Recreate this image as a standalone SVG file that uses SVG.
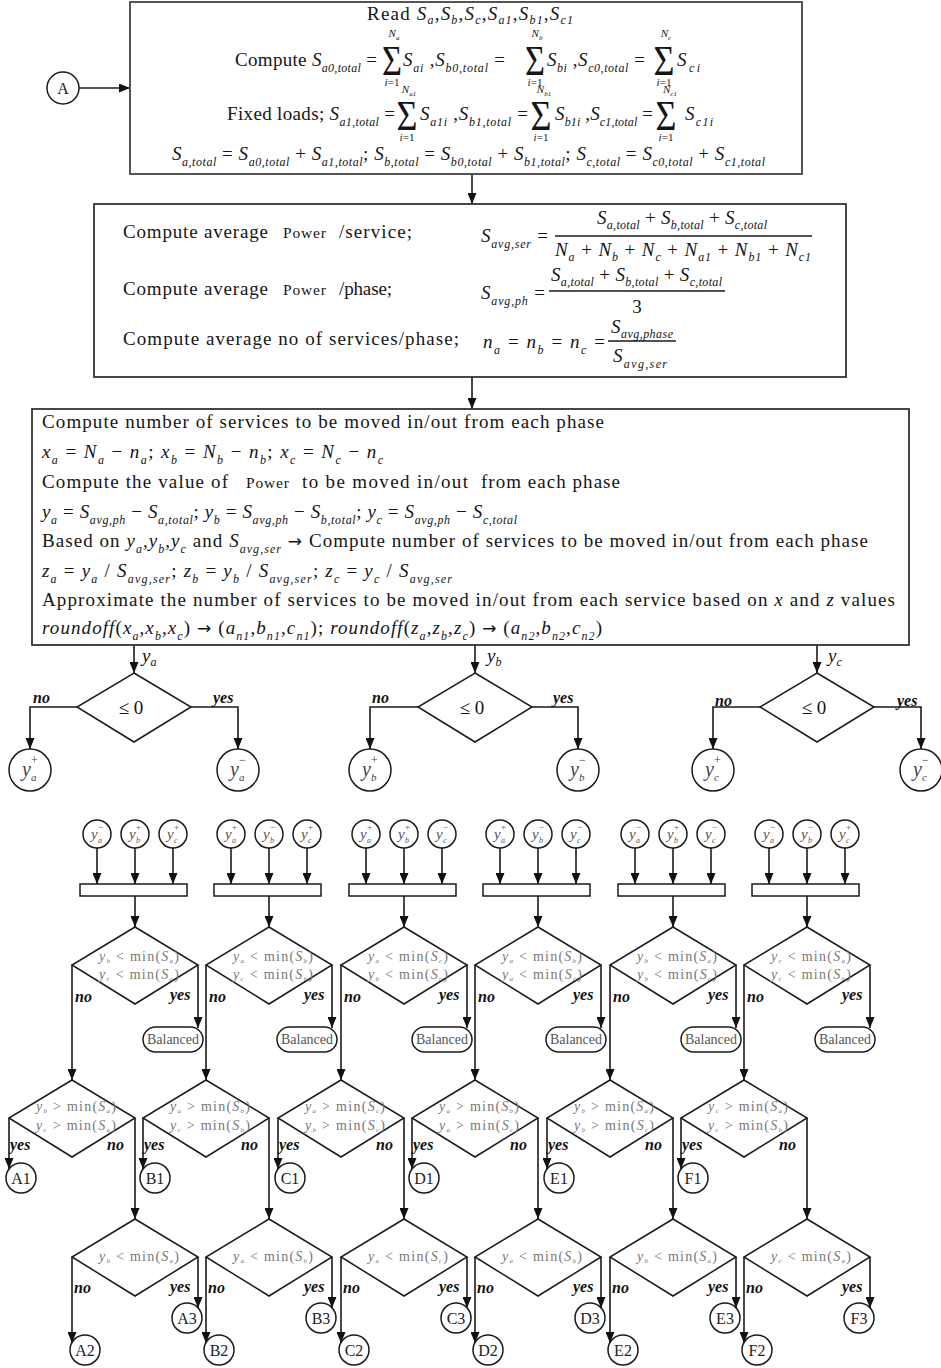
<svg xmlns="http://www.w3.org/2000/svg" width="941" height="1368" viewBox="0 0 941 1368">
<style>
.tx{font-family:"Liberation Serif","Times New Roman",serif;font-size:19px;fill:#151515}
.i{font-style:italic}
.s{font-size:12px;font-style:italic}
.pw{font-size:15.5px}
.arw{font-family:"DejaVu Sans",sans-serif;font-style:normal;font-size:17px}
.sig{font-family:"Liberation Serif",serif;font-size:42px;text-anchor:middle;fill:#151515}
.lim{font-family:"Liberation Serif",serif;font-size:11px;text-anchor:middle;fill:#151515}
.yn{font-family:"Liberation Serif",serif;font-style:italic;font-weight:bold;font-size:16px;fill:#111}
.cd{font-family:"Liberation Serif",serif;font-size:14px;fill:#777;text-anchor:middle}
.cs{font-size:7px;font-style:italic}
.ln{fill:none;stroke:#1a1a1a;stroke-width:1.6}
.ar{fill:none;stroke:#1a1a1a;stroke-width:1.6;marker-end:url(#ah)}
.bx{fill:#fff;stroke:#333;stroke-width:1.8}
.nd{fill:#fff;stroke:#1a1a1a;stroke-width:1.5}
.yv{font-family:"Liberation Serif",serif;font-style:italic;font-size:15px;fill:#555}
.yp{font-family:"Liberation Serif",serif;font-size:9px;fill:#555}
.yq{font-family:"Liberation Serif",serif;font-style:italic;font-size:8px;fill:#555}
.Yv{font-family:"Liberation Serif",serif;font-style:italic;font-size:20px;fill:#444}
.Yp{font-family:"Liberation Serif",serif;font-size:12px;fill:#444}
.Yq{font-family:"Liberation Serif",serif;font-style:italic;font-size:11px;fill:#444}
.ol{font-family:"Liberation Serif",serif;font-size:16px;fill:#222;text-anchor:middle}
.bl{font-family:"Liberation Serif",serif;font-size:14px;fill:#555;text-anchor:middle}
</style>
<defs>
<marker id="ah" viewBox="0 0 11 9" refX="11" refY="4.5" markerWidth="11" markerHeight="9" markerUnits="userSpaceOnUse" orient="auto"><path d="M0,0 L11,4.5 L0,9 z" fill="#111"/></marker>
</defs>
<rect width="941" height="1368" fill="#fff"/>

<!-- connectors -->
<g id="connectors">
<path class="ar" d="M79,88 H130"/>
<path class="ar" d="M472,174 V204"/>
<path class="ar" d="M472,377 V409"/>
<path class="ar" d="M134,645 V673"/>
<path class="ar" d="M475,645 V673"/>
<path class="ar" d="M817,645 V673"/>
<path class="ar" d="M77,707 H30 V749"/>
<path class="ar" d="M191,707 H238 V749"/>
<path class="ar" d="M418,707 H370 V749"/>
<path class="ar" d="M532,707 H578 V749"/>
<path class="ar" d="M760,707 H713 V749"/>
<path class="ar" d="M874,707 H921 V749"/>
<text class="tx i" x="142" y="662">y<tspan class="s" dy="4">a</tspan></text>
<text class="tx i" x="487" y="662">y<tspan class="s" dy="4">b</tspan></text>
<text class="tx i" x="828" y="662">y<tspan class="s" dy="4">c</tspan></text>
<text class="yn" x="33" y="703">no</text><text class="yn" x="213" y="703">yes</text>
<text class="yn" x="372" y="703">no</text><text class="yn" x="553" y="703">yes</text>
<text class="yn" x="715" y="706">no</text><text class="yn" x="897" y="706">yes</text>

<!-- column a -->
<path class="ar" d="M97,848 V884"/><path class="ar" d="M135,848 V884"/><path class="ar" d="M173,848 V884"/>
<path class="ar" d="M135,896 V927"/><path class="ar" d="M198,965 V1028"/><path class="ar" d="M72,965 V1080"/>
<path class="ar" d="M9,1118 V1169"/><path class="ar" d="M135,1118 V1219"/><path class="ar" d="M72,1257 V1343"/><path class="ar" d="M198,1257 V1308"/>
<!-- column b -->
<path class="ar" d="M231,848 V884"/><path class="ar" d="M269,848 V884"/><path class="ar" d="M307,848 V884"/>
<path class="ar" d="M269,896 V927"/><path class="ar" d="M332,965 V1028"/><path class="ar" d="M206,965 V1080"/>
<path class="ar" d="M143,1118 V1169"/><path class="ar" d="M269,1118 V1219"/><path class="ar" d="M206,1257 V1343"/><path class="ar" d="M332,1257 V1308"/>
<!-- column c -->
<path class="ar" d="M366,848 V884"/><path class="ar" d="M404,848 V884"/><path class="ar" d="M442,848 V884"/>
<path class="ar" d="M404,896 V927"/><path class="ar" d="M467,965 V1028"/><path class="ar" d="M341,965 V1080"/>
<path class="ar" d="M278,1118 V1169"/><path class="ar" d="M404,1118 V1219"/><path class="ar" d="M341,1257 V1343"/><path class="ar" d="M467,1257 V1308"/>
<!-- column d -->
<path class="ar" d="M500,848 V884"/><path class="ar" d="M538,848 V884"/><path class="ar" d="M576,848 V884"/>
<path class="ar" d="M538,896 V927"/><path class="ar" d="M601,965 V1028"/><path class="ar" d="M475,965 V1080"/>
<path class="ar" d="M412,1118 V1169"/><path class="ar" d="M538,1118 V1219"/><path class="ar" d="M475,1257 V1343"/><path class="ar" d="M601,1257 V1308"/>
<!-- column e -->
<path class="ar" d="M635,848 V884"/><path class="ar" d="M673,848 V884"/><path class="ar" d="M711,848 V884"/>
<path class="ar" d="M673,896 V927"/><path class="ar" d="M736,965 V1028"/><path class="ar" d="M610,965 V1080"/>
<path class="ar" d="M547,1118 V1169"/><path class="ar" d="M673,1118 V1219"/><path class="ar" d="M610,1257 V1343"/><path class="ar" d="M736,1257 V1308"/>
<!-- column f -->
<path class="ar" d="M769,848 V884"/><path class="ar" d="M807,848 V884"/><path class="ar" d="M845,848 V884"/>
<path class="ar" d="M807,896 V927"/><path class="ar" d="M870,965 V1028"/><path class="ar" d="M744,965 V1080"/>
<path class="ar" d="M681,1118 V1169"/><path class="ar" d="M807,1118 V1219"/><path class="ar" d="M744,1257 V1343"/><path class="ar" d="M870,1257 V1308"/>

<!-- branch labels -->
<text class="yn" x="75" y="1002">no</text><text class="yn" x="170" y="1000">yes</text><text class="yn" x="10" y="1150">yes</text><text class="yn" x="107" y="1150">no</text><text class="yn" x="74" y="1293">no</text><text class="yn" x="170" y="1292">yes</text>
<text class="yn" x="209" y="1002">no</text><text class="yn" x="304" y="1000">yes</text><text class="yn" x="144" y="1150">yes</text><text class="yn" x="241" y="1150">no</text><text class="yn" x="208" y="1293">no</text><text class="yn" x="304" y="1292">yes</text>
<text class="yn" x="344" y="1002">no</text><text class="yn" x="439" y="1000">yes</text><text class="yn" x="279" y="1150">yes</text><text class="yn" x="376" y="1150">no</text><text class="yn" x="343" y="1293">no</text><text class="yn" x="439" y="1292">yes</text>
<text class="yn" x="478" y="1002">no</text><text class="yn" x="573" y="1000">yes</text><text class="yn" x="413" y="1150">yes</text><text class="yn" x="510" y="1150">no</text><text class="yn" x="477" y="1293">no</text><text class="yn" x="573" y="1292">yes</text>
<text class="yn" x="613" y="1002">no</text><text class="yn" x="708" y="1000">yes</text><text class="yn" x="548" y="1150">yes</text><text class="yn" x="645" y="1150">no</text><text class="yn" x="612" y="1293">no</text><text class="yn" x="708" y="1292">yes</text>
<text class="yn" x="747" y="1002">no</text><text class="yn" x="842" y="1000">yes</text><text class="yn" x="682" y="1150">yes</text><text class="yn" x="779" y="1150">no</text><text class="yn" x="746" y="1293">no</text><text class="yn" x="842" y="1292">yes</text>
</g>

<!-- start connector A -->
<g id="start-A"><circle class="nd" cx="63" cy="88" r="16"/><text class="ol" x="63" y="94">A</text></g>

<!-- input and totals -->
<g id="totals-box">
<rect x="130" y="2" width="672" height="172" fill="#fff" stroke="#555" stroke-width="2"/>
<text class="tx" x="367" y="20" textLength="206" lengthAdjust="spacing">Read <tspan class="i">S</tspan><tspan class="s" dy="4">a</tspan><tspan dy="-4">,</tspan><tspan class="i">S</tspan><tspan class="s" dy="4">b</tspan><tspan dy="-4">,</tspan><tspan class="i">S</tspan><tspan class="s" dy="4">c</tspan><tspan dy="-4">,</tspan><tspan class="i">S</tspan><tspan class="s" dy="4">a1</tspan><tspan dy="-4">,</tspan><tspan class="i">S</tspan><tspan class="s" dy="4">b1</tspan><tspan dy="-4">,</tspan><tspan class="i">S</tspan><tspan class="s" dy="4">c1</tspan></text>

<text class="tx" x="235" y="66" textLength="142" lengthAdjust="spacing">Compute <tspan class="i">S</tspan><tspan class="s" dy="6">a0,total</tspan><tspan dy="-6"> =</tspan></text>
<text class="sig" x="392" y="75" textLength="20" lengthAdjust="spacingAndGlyphs">Σ</text>
<text class="lim" x="394" y="37"><tspan class="i">N</tspan><tspan font-size="7" dy="3" font-style="italic">a</tspan></text>
<text class="lim" x="392" y="86"><tspan class="i">i</tspan>=1</text>
<text class="tx" x="403" y="66" textLength="102" lengthAdjust="spacing"><tspan class="i">S</tspan><tspan class="s" dy="6">ai</tspan><tspan dy="-6"> ,</tspan><tspan class="i">S</tspan><tspan class="s" dy="6">b0,total</tspan><tspan dy="-6"> =</tspan></text>
<text class="sig" x="535" y="75" textLength="20" lengthAdjust="spacingAndGlyphs">Σ</text>
<text class="lim" x="537" y="37"><tspan class="i">N</tspan><tspan font-size="7" dy="3" font-style="italic">b</tspan></text>
<text class="lim" x="535" y="86"><tspan class="i">i</tspan>=1</text>
<text class="tx" x="547" y="66" textLength="98" lengthAdjust="spacing"><tspan class="i">S</tspan><tspan class="s" dy="6">bi</tspan><tspan dy="-6"> ,</tspan><tspan class="i">S</tspan><tspan class="s" dy="6">c0,total</tspan><tspan dy="-6"> =</tspan></text>
<text class="sig" x="664" y="75" textLength="21" lengthAdjust="spacingAndGlyphs">Σ</text>
<text class="lim" x="666" y="37"><tspan class="i">N</tspan><tspan font-size="7" dy="3" font-style="italic">c</tspan></text>
<text class="lim" x="664" y="86"><tspan class="i">i</tspan>=1</text>
<text class="tx" x="677" y="66" textLength="23" lengthAdjust="spacing"><tspan class="i">S</tspan><tspan class="s" dy="6">ci</tspan></text>

<text class="tx" x="227" y="120" textLength="168" lengthAdjust="spacing">Fixed loads; <tspan class="i">S</tspan><tspan class="s" dy="6">a1,total</tspan><tspan dy="-6"> =</tspan></text>
<text class="sig" x="407" y="130" textLength="21" lengthAdjust="spacingAndGlyphs">Σ</text>
<text class="lim" x="409" y="93"><tspan class="i">N</tspan><tspan font-size="7" dy="3" font-style="italic">a1</tspan></text>
<text class="lim" x="407" y="141"><tspan class="i">i</tspan>=1</text>
<text class="tx" x="420" y="120" textLength="108" lengthAdjust="spacing"><tspan class="i">S</tspan><tspan class="s" dy="6">a1i</tspan><tspan dy="-6"> ,</tspan><tspan class="i">S</tspan><tspan class="s" dy="6">b1,total</tspan><tspan dy="-6"> =</tspan></text>
<text class="sig" x="541" y="130" textLength="21" lengthAdjust="spacingAndGlyphs">Σ</text>
<text class="lim" x="544" y="93"><tspan class="i">N</tspan><tspan font-size="7" dy="3" font-style="italic">b1</tspan></text>
<text class="lim" x="541" y="141"><tspan class="i">i</tspan>=1</text>
<text class="tx" x="555" y="120" textLength="98" lengthAdjust="spacing"><tspan class="i">S</tspan><tspan class="s" dy="6">b1i</tspan><tspan dy="-6"> ,</tspan><tspan class="i">S</tspan><tspan class="s" dy="6">c1,total</tspan><tspan dy="-6"> =</tspan></text>
<text class="sig" x="666" y="130" textLength="21" lengthAdjust="spacingAndGlyphs">Σ</text>
<text class="lim" x="670" y="93"><tspan class="i">N</tspan><tspan font-size="7" dy="3" font-style="italic">c1</tspan></text>
<text class="lim" x="666" y="141"><tspan class="i">i</tspan>=1</text>
<text class="tx" x="685" y="120" textLength="28" lengthAdjust="spacing"><tspan class="i">S</tspan><tspan class="s" dy="6">c1i</tspan></text>

<text class="tx" x="172" y="160" textLength="593" lengthAdjust="spacing"><tspan class="i">S</tspan><tspan class="s" dy="6">a,total</tspan><tspan dy="-6"> = </tspan><tspan class="i">S</tspan><tspan class="s" dy="6">a0,total</tspan><tspan dy="-6"> + </tspan><tspan class="i">S</tspan><tspan class="s" dy="6">a1,total</tspan><tspan dy="-6">; </tspan><tspan class="i">S</tspan><tspan class="s" dy="6">b,total</tspan><tspan dy="-6"> = </tspan><tspan class="i">S</tspan><tspan class="s" dy="6">b0,total</tspan><tspan dy="-6"> + </tspan><tspan class="i">S</tspan><tspan class="s" dy="6">b1,total</tspan><tspan dy="-6">; </tspan><tspan class="i">S</tspan><tspan class="s" dy="6">c,total</tspan><tspan dy="-6"> = </tspan><tspan class="i">S</tspan><tspan class="s" dy="6">c0,total</tspan><tspan dy="-6"> + </tspan><tspan class="i">S</tspan><tspan class="s" dy="6">c1,total</tspan></text>
</g>

<!-- averages -->
<g id="average-box">
<rect class="bx" x="94" y="204" width="752" height="173"/>
<text class="tx" x="123" y="238" textLength="145" lengthAdjust="spacing">Compute average</text>
<text class="tx pw" x="283" y="238" textLength="43" lengthAdjust="spacing">Power</text>
<text class="tx" x="339" y="238" textLength="73" lengthAdjust="spacing">/service;</text>
<text class="tx" x="481" y="242" textLength="67" lengthAdjust="spacing"><tspan class="i">S</tspan><tspan class="s" dy="6" font-size="11">avg,ser</tspan><tspan dy="-6"> =</tspan></text>
<line class="ln" x1="555" y1="236" x2="812" y2="236"/>
<text class="tx" x="597" y="224" textLength="170" lengthAdjust="spacing"><tspan class="i">S</tspan><tspan class="s" dy="5" font-size="11">a,total</tspan><tspan dy="-5"> + </tspan><tspan class="i">S</tspan><tspan class="s" dy="5" font-size="11">b,total</tspan><tspan dy="-5"> + </tspan><tspan class="i">S</tspan><tspan class="s" dy="5" font-size="11">c,total</tspan></text>
<text class="tx" x="555" y="256" textLength="256" lengthAdjust="spacing"><tspan class="i">N</tspan><tspan class="s" dy="5" font-size="11">a</tspan><tspan dy="-5"> + </tspan><tspan class="i">N</tspan><tspan class="s" dy="5" font-size="11">b</tspan><tspan dy="-5"> + </tspan><tspan class="i">N</tspan><tspan class="s" dy="5" font-size="11">c</tspan><tspan dy="-5"> + </tspan><tspan class="i">N</tspan><tspan class="s" dy="5" font-size="11">a1</tspan><tspan dy="-5"> + </tspan><tspan class="i">N</tspan><tspan class="s" dy="5" font-size="11">b1</tspan><tspan dy="-5"> + </tspan><tspan class="i">N</tspan><tspan class="s" dy="5" font-size="11">c1</tspan></text>

<text class="tx" x="123" y="295" textLength="145" lengthAdjust="spacing">Compute average</text>
<text class="tx pw" x="283" y="295" textLength="43" lengthAdjust="spacing">Power</text>
<text class="tx" x="339" y="295" textLength="53" lengthAdjust="spacing">/phase;</text>
<text class="tx" x="481" y="299" textLength="64" lengthAdjust="spacing"><tspan class="i">S</tspan><tspan class="s" dy="6" font-size="11">avg,ph</tspan><tspan dy="-6"> =</tspan></text>
<line class="ln" x1="549" y1="291" x2="725" y2="291"/>
<text class="tx" x="551" y="281" textLength="171" lengthAdjust="spacing"><tspan class="i">S</tspan><tspan class="s" dy="5" font-size="11">a,total</tspan><tspan dy="-5"> + </tspan><tspan class="i">S</tspan><tspan class="s" dy="5" font-size="11">b,total</tspan><tspan dy="-5"> + </tspan><tspan class="i">S</tspan><tspan class="s" dy="5" font-size="11">c,total</tspan></text>
<text class="tx" x="637" y="313" text-anchor="middle">3</text>

<text class="tx" x="123" y="345" textLength="336" lengthAdjust="spacing">Compute average no of services/phase;</text>
<text class="tx" x="483" y="348" textLength="122" lengthAdjust="spacing"><tspan class="i">n</tspan><tspan class="s" dy="6" font-size="11">a</tspan><tspan dy="-6"> = </tspan><tspan class="i">n</tspan><tspan class="s" dy="6" font-size="11">b</tspan><tspan dy="-6"> = </tspan><tspan class="i">n</tspan><tspan class="s" dy="6" font-size="11">c</tspan><tspan dy="-6"> =</tspan></text>
<line class="ln" x1="608" y1="341" x2="676" y2="341"/>
<text class="tx" x="611" y="333" textLength="62" lengthAdjust="spacing"><tspan class="i">S</tspan><tspan class="s" dy="5" font-size="10">avg,phase</tspan></text>
<text class="tx" x="613" y="362" textLength="54" lengthAdjust="spacing"><tspan class="i">S</tspan><tspan class="s" dy="6" font-size="10">avg,ser</tspan></text>
</g>

<!-- services to move -->
<g id="moves-box">
<rect class="bx" x="32" y="409" width="877" height="236"/>
<text class="tx" x="42" y="428" textLength="562" lengthAdjust="spacing">Compute number of services to be moved in/out from each phase</text>
<text class="tx" x="42" y="458" textLength="341" lengthAdjust="spacing"><tspan class="i">x</tspan><tspan class="s" dy="6">a</tspan><tspan dy="-6"> = </tspan><tspan class="i">N</tspan><tspan class="s" dy="6">a</tspan><tspan dy="-6"> − </tspan><tspan class="i">n</tspan><tspan class="s" dy="6">a</tspan><tspan dy="-6">;  </tspan><tspan class="i">x</tspan><tspan class="s" dy="6">b</tspan><tspan dy="-6"> = </tspan><tspan class="i">N</tspan><tspan class="s" dy="6">b</tspan><tspan dy="-6"> − </tspan><tspan class="i">n</tspan><tspan class="s" dy="6">b</tspan><tspan dy="-6">;  </tspan><tspan class="i">x</tspan><tspan class="s" dy="6">c</tspan><tspan dy="-6"> = </tspan><tspan class="i">N</tspan><tspan class="s" dy="6">c</tspan><tspan dy="-6"> − </tspan><tspan class="i">n</tspan><tspan class="s" dy="6">c</tspan></text>
<text class="tx" x="42" y="488" textLength="186" lengthAdjust="spacing">Compute the value of</text>
<text class="tx pw" x="246" y="488" textLength="43" lengthAdjust="spacing">Power</text>
<text class="tx" x="302" y="488" textLength="166" lengthAdjust="spacing">to be moved in/out</text>
<text class="tx" x="481" y="488" textLength="139" lengthAdjust="spacing">from each phase</text>
<text class="tx" x="42" y="518" textLength="475" lengthAdjust="spacing"><tspan class="i">y</tspan><tspan class="s" dy="6">a</tspan><tspan dy="-6"> = </tspan><tspan class="i">S</tspan><tspan class="s" dy="6" font-size="11">avg,ph</tspan><tspan dy="-6"> − </tspan><tspan class="i">S</tspan><tspan class="s" dy="6" font-size="11">a,total</tspan><tspan dy="-6">; </tspan><tspan class="i">y</tspan><tspan class="s" dy="6">b</tspan><tspan dy="-6"> = </tspan><tspan class="i">S</tspan><tspan class="s" dy="6" font-size="11">avg,ph</tspan><tspan dy="-6"> − </tspan><tspan class="i">S</tspan><tspan class="s" dy="6" font-size="11">b,total</tspan><tspan dy="-6">; </tspan><tspan class="i">y</tspan><tspan class="s" dy="6">c</tspan><tspan dy="-6"> = </tspan><tspan class="i">S</tspan><tspan class="s" dy="6" font-size="11">avg,ph</tspan><tspan dy="-6"> − </tspan><tspan class="i">S</tspan><tspan class="s" dy="6" font-size="11">c,total</tspan></text>
<text class="tx" x="42" y="547" textLength="826" lengthAdjust="spacing">Based on <tspan class="i">y</tspan><tspan class="s" dy="6">a</tspan><tspan dy="-6">,</tspan><tspan class="i">y</tspan><tspan class="s" dy="6">b</tspan><tspan dy="-6">,</tspan><tspan class="i">y</tspan><tspan class="s" dy="6">c</tspan><tspan dy="-6"> and </tspan><tspan class="i">S</tspan><tspan class="s" dy="6" font-size="11">avg,ser</tspan><tspan dy="-6"> </tspan><tspan class="arw">→</tspan><tspan> Compute number of services to be moved in/out from each phase</tspan></text>
<text class="tx" x="42" y="577" textLength="410" lengthAdjust="spacing"><tspan class="i">z</tspan><tspan class="s" dy="6">a</tspan><tspan dy="-6"> = </tspan><tspan class="i">y</tspan><tspan class="s" dy="6">a</tspan><tspan dy="-6"> / </tspan><tspan class="i">S</tspan><tspan class="s" dy="6" font-size="11">avg,ser</tspan><tspan dy="-6">;  </tspan><tspan class="i">z</tspan><tspan class="s" dy="6">b</tspan><tspan dy="-6"> = </tspan><tspan class="i">y</tspan><tspan class="s" dy="6">b</tspan><tspan dy="-6"> / </tspan><tspan class="i">S</tspan><tspan class="s" dy="6" font-size="11">avg,ser</tspan><tspan dy="-6">;  </tspan><tspan class="i">z</tspan><tspan class="s" dy="6">c</tspan><tspan dy="-6"> = </tspan><tspan class="i">y</tspan><tspan class="s" dy="6">c</tspan><tspan dy="-6"> / </tspan><tspan class="i">S</tspan><tspan class="s" dy="6" font-size="11">avg,ser</tspan></text>
<text class="tx" x="42" y="606" textLength="853" lengthAdjust="spacing">Approximate the number of services to be moved in/out from each service based on <tspan class="i">x</tspan> and <tspan class="i">z</tspan> values</text>
<text class="tx" x="42" y="634" textLength="560" lengthAdjust="spacing"><tspan class="i">roundoff</tspan>(<tspan class="i">x</tspan><tspan class="s" dy="6">a</tspan><tspan dy="-6">,</tspan><tspan class="i">x</tspan><tspan class="s" dy="6">b</tspan><tspan dy="-6">,</tspan><tspan class="i">x</tspan><tspan class="s" dy="6">c</tspan><tspan dy="-6">) </tspan><tspan class="arw">→</tspan><tspan> (</tspan><tspan class="i">a</tspan><tspan class="s" dy="6">n1</tspan><tspan dy="-6">,</tspan><tspan class="i">b</tspan><tspan class="s" dy="6">n1</tspan><tspan dy="-6">,</tspan><tspan class="i">c</tspan><tspan class="s" dy="6">n1</tspan><tspan dy="-6">); </tspan><tspan class="i">roundoff</tspan>(<tspan class="i">z</tspan><tspan class="s" dy="6">a</tspan><tspan dy="-6">,</tspan><tspan class="i">z</tspan><tspan class="s" dy="6">b</tspan><tspan dy="-6">,</tspan><tspan class="i">z</tspan><tspan class="s" dy="6">c</tspan><tspan dy="-6">) </tspan><tspan class="arw">→</tspan><tspan> (</tspan><tspan class="i">a</tspan><tspan class="s" dy="6">n2</tspan><tspan dy="-6">,</tspan><tspan class="i">b</tspan><tspan class="s" dy="6">n2</tspan><tspan dy="-6">,</tspan><tspan class="i">c</tspan><tspan class="s" dy="6">n2</tspan><tspan dy="-6">)</tspan></text>
</g>

<!-- sign tests per phase -->
<g id="test-a"><polygon class="nd" points="134,673 191,707 134,742 77,707"/><text class="tx" x="131" y="714" text-anchor="middle" font-size="20">≤ 0</text></g>
<g id="test-b"><polygon class="nd" points="475,673 532,707 475,742 418,707"/><text class="tx" x="472" y="714" text-anchor="middle" font-size="20">≤ 0</text></g>
<g id="test-c"><polygon class="nd" points="817,673 874,707 817,742 760,707"/><text class="tx" x="814" y="714" text-anchor="middle" font-size="20">≤ 0</text></g>
<g id="ya-plus"><circle class="nd" cx="30" cy="770" r="21"/><text class="Yv" x="22" y="776">y</text><text class="Yp" x="31" y="764">+</text><text class="Yq" x="31" y="781">a</text></g>
<g id="ya-minus"><circle class="nd" cx="238" cy="770" r="21"/><text class="Yv" x="230" y="776">y</text><text class="Yp" x="239" y="764">−</text><text class="Yq" x="239" y="781">a</text></g>
<g id="yb-plus"><circle class="nd" cx="370" cy="770" r="21"/><text class="Yv" x="362" y="776">y</text><text class="Yp" x="371" y="764">+</text><text class="Yq" x="371" y="781">b</text></g>
<g id="yb-minus"><circle class="nd" cx="578" cy="770" r="21"/><text class="Yv" x="570" y="776">y</text><text class="Yp" x="579" y="764">−</text><text class="Yq" x="579" y="781">b</text></g>
<g id="yc-plus"><circle class="nd" cx="713" cy="770" r="21"/><text class="Yv" x="705" y="776">y</text><text class="Yp" x="714" y="764">+</text><text class="Yq" x="714" y="781">c</text></g>
<g id="yc-minus"><circle class="nd" cx="921" cy="770" r="21"/><text class="Yv" x="913" y="776">y</text><text class="Yp" x="922" y="764">−</text><text class="Yq" x="922" y="781">c</text></g>

<!-- case a: ya-, yb+, yc+ -->
<g id="a-in1"><circle class="nd" cx="97" cy="834" r="14"/><text class="yv" x="91" y="839">y</text><text class="yp" x="98" y="830">−</text><text class="yq" x="98" y="843">a</text></g>
<g id="a-in2"><circle class="nd" cx="135" cy="834" r="14"/><text class="yv" x="129" y="839">y</text><text class="yp" x="136" y="830">+</text><text class="yq" x="136" y="843">b</text></g>
<g id="a-in3"><circle class="nd" cx="173" cy="834" r="14"/><text class="yv" x="167" y="839">y</text><text class="yp" x="174" y="830">+</text><text class="yq" x="174" y="843">c</text></g>
<g id="a-join"><rect class="nd" x="80" y="884" width="107" height="12"/></g>
<g id="a-test1"><polygon class="nd" points="135,927 198,965 135,1004 72,965"/>
<text class="cd" x="139" y="961" textLength="80"><tspan class="i">y</tspan><tspan class="cs" dy="2">b</tspan><tspan dy="-2"> &lt; min(</tspan><tspan class="i">S</tspan><tspan class="cs" dy="2">a</tspan><tspan dy="-2">)</tspan></text>
<text class="cd" x="139" y="979" textLength="80"><tspan class="i">y</tspan><tspan class="cs" dy="2">c</tspan><tspan dy="-2"> &lt; min(</tspan><tspan class="i">S</tspan><tspan class="cs" dy="2">a</tspan><tspan dy="-2">)</tspan></text></g>
<g id="a-balanced"><rect class="nd" x="143" y="1027" width="60" height="25" rx="12.5"/><text class="bl" x="173" y="1044" textLength="52">Balanced</text></g>
<g id="a-test2"><polygon class="nd" points="72,1080 135,1118 72,1157 9,1118"/>
<text class="cd" x="76" y="1111" textLength="80"><tspan class="i">y</tspan><tspan class="cs" dy="2">b</tspan><tspan dy="-2"> &gt; min(</tspan><tspan class="i">S</tspan><tspan class="cs" dy="2">a</tspan><tspan dy="-2">)</tspan></text>
<text class="cd" x="76" y="1130" textLength="80"><tspan class="i">y</tspan><tspan class="cs" dy="2">c</tspan><tspan dy="-2"> &gt; min(</tspan><tspan class="i">S</tspan><tspan class="cs" dy="2">a</tspan><tspan dy="-2">)</tspan></text></g>
<g id="a-test3"><polygon class="nd" points="135,1219 198,1257 135,1296 72,1257"/>
<text class="cd" x="139" y="1261" textLength="80"><tspan class="i">y</tspan><tspan class="cs" dy="2">b</tspan><tspan dy="-2"> &lt; min(</tspan><tspan class="i">S</tspan><tspan class="cs" dy="2">a</tspan><tspan dy="-2">)</tspan></text></g>
<g id="out-A1"><circle class="nd" cx="21" cy="1178" r="15"/><text class="ol" x="21" y="1184">A1</text></g>
<g id="out-A2"><circle class="nd" cx="85" cy="1350" r="15"/><text class="ol" x="85" y="1356">A2</text></g>
<g id="out-A3"><circle class="nd" cx="187" cy="1318" r="15"/><text class="ol" x="187" y="1324">A3</text></g>

<!-- case b: ya+, yb-, yc+ -->
<g id="b-in1"><circle class="nd" cx="231" cy="834" r="14"/><text class="yv" x="225" y="839">y</text><text class="yp" x="232" y="830">+</text><text class="yq" x="232" y="843">a</text></g>
<g id="b-in2"><circle class="nd" cx="269" cy="834" r="14"/><text class="yv" x="263" y="839">y</text><text class="yp" x="270" y="830">−</text><text class="yq" x="270" y="843">b</text></g>
<g id="b-in3"><circle class="nd" cx="307" cy="834" r="14"/><text class="yv" x="301" y="839">y</text><text class="yp" x="308" y="830">+</text><text class="yq" x="308" y="843">c</text></g>
<g id="b-join"><rect class="nd" x="214" y="884" width="107" height="12"/></g>
<g id="b-test1"><polygon class="nd" points="269,927 332,965 269,1004 206,965"/>
<text class="cd" x="273" y="961" textLength="80"><tspan class="i">y</tspan><tspan class="cs" dy="2">a</tspan><tspan dy="-2"> &lt; min(</tspan><tspan class="i">S</tspan><tspan class="cs" dy="2">b</tspan><tspan dy="-2">)</tspan></text>
<text class="cd" x="273" y="979" textLength="80"><tspan class="i">y</tspan><tspan class="cs" dy="2">c</tspan><tspan dy="-2"> &lt; min(</tspan><tspan class="i">S</tspan><tspan class="cs" dy="2">b</tspan><tspan dy="-2">)</tspan></text></g>
<g id="b-balanced"><rect class="nd" x="277" y="1027" width="60" height="25" rx="12.5"/><text class="bl" x="307" y="1044" textLength="52">Balanced</text></g>
<g id="b-test2"><polygon class="nd" points="206,1080 269,1118 206,1157 143,1118"/>
<text class="cd" x="210" y="1111" textLength="80"><tspan class="i">y</tspan><tspan class="cs" dy="2">a</tspan><tspan dy="-2"> &gt; min(</tspan><tspan class="i">S</tspan><tspan class="cs" dy="2">b</tspan><tspan dy="-2">)</tspan></text>
<text class="cd" x="210" y="1130" textLength="80"><tspan class="i">y</tspan><tspan class="cs" dy="2">c</tspan><tspan dy="-2"> &gt; min(</tspan><tspan class="i">S</tspan><tspan class="cs" dy="2">b</tspan><tspan dy="-2">)</tspan></text></g>
<g id="b-test3"><polygon class="nd" points="269,1219 332,1257 269,1296 206,1257"/>
<text class="cd" x="273" y="1261" textLength="80"><tspan class="i">y</tspan><tspan class="cs" dy="2">a</tspan><tspan dy="-2"> &lt; min(</tspan><tspan class="i">S</tspan><tspan class="cs" dy="2">b</tspan><tspan dy="-2">)</tspan></text></g>
<g id="out-B1"><circle class="nd" cx="155" cy="1178" r="15"/><text class="ol" x="155" y="1184">B1</text></g>
<g id="out-B2"><circle class="nd" cx="219" cy="1350" r="15"/><text class="ol" x="219" y="1356">B2</text></g>
<g id="out-B3"><circle class="nd" cx="321" cy="1318" r="15"/><text class="ol" x="321" y="1324">B3</text></g>

<!-- case c: ya+, yb+, yc- -->
<g id="c-in1"><circle class="nd" cx="366" cy="834" r="14"/><text class="yv" x="360" y="839">y</text><text class="yp" x="367" y="830">+</text><text class="yq" x="367" y="843">a</text></g>
<g id="c-in2"><circle class="nd" cx="404" cy="834" r="14"/><text class="yv" x="398" y="839">y</text><text class="yp" x="405" y="830">+</text><text class="yq" x="405" y="843">b</text></g>
<g id="c-in3"><circle class="nd" cx="442" cy="834" r="14"/><text class="yv" x="436" y="839">y</text><text class="yp" x="443" y="830">−</text><text class="yq" x="443" y="843">c</text></g>
<g id="c-join"><rect class="nd" x="349" y="884" width="107" height="12"/></g>
<g id="c-test1"><polygon class="nd" points="404,927 467,965 404,1004 341,965"/>
<text class="cd" x="408" y="961" textLength="80"><tspan class="i">y</tspan><tspan class="cs" dy="2">a</tspan><tspan dy="-2"> &lt; min(</tspan><tspan class="i">S</tspan><tspan class="cs" dy="2">c</tspan><tspan dy="-2">)</tspan></text>
<text class="cd" x="408" y="979" textLength="80"><tspan class="i">y</tspan><tspan class="cs" dy="2">b</tspan><tspan dy="-2"> &lt; min(</tspan><tspan class="i">S</tspan><tspan class="cs" dy="2">c</tspan><tspan dy="-2">)</tspan></text></g>
<g id="c-balanced"><rect class="nd" x="412" y="1027" width="60" height="25" rx="12.5"/><text class="bl" x="442" y="1044" textLength="52">Balanced</text></g>
<g id="c-test2"><polygon class="nd" points="341,1080 404,1118 341,1157 278,1118"/>
<text class="cd" x="345" y="1111" textLength="80"><tspan class="i">y</tspan><tspan class="cs" dy="2">a</tspan><tspan dy="-2"> &gt; min(</tspan><tspan class="i">S</tspan><tspan class="cs" dy="2">c</tspan><tspan dy="-2">)</tspan></text>
<text class="cd" x="345" y="1130" textLength="80"><tspan class="i">y</tspan><tspan class="cs" dy="2">b</tspan><tspan dy="-2"> &gt; min(</tspan><tspan class="i">S</tspan><tspan class="cs" dy="2">c</tspan><tspan dy="-2">)</tspan></text></g>
<g id="c-test3"><polygon class="nd" points="404,1219 467,1257 404,1296 341,1257"/>
<text class="cd" x="408" y="1261" textLength="80"><tspan class="i">y</tspan><tspan class="cs" dy="2">a</tspan><tspan dy="-2"> &lt; min(</tspan><tspan class="i">S</tspan><tspan class="cs" dy="2">c</tspan><tspan dy="-2">)</tspan></text></g>
<g id="out-C1"><circle class="nd" cx="290" cy="1178" r="15"/><text class="ol" x="290" y="1184">C1</text></g>
<g id="out-C2"><circle class="nd" cx="354" cy="1350" r="15"/><text class="ol" x="354" y="1356">C2</text></g>
<g id="out-C3"><circle class="nd" cx="456" cy="1318" r="15"/><text class="ol" x="456" y="1324">C3</text></g>

<!-- case d: ya+, yb-, yc- -->
<g id="d-in1"><circle class="nd" cx="500" cy="834" r="14"/><text class="yv" x="494" y="839">y</text><text class="yp" x="501" y="830">+</text><text class="yq" x="501" y="843">a</text></g>
<g id="d-in2"><circle class="nd" cx="538" cy="834" r="14"/><text class="yv" x="532" y="839">y</text><text class="yp" x="539" y="830">−</text><text class="yq" x="539" y="843">b</text></g>
<g id="d-in3"><circle class="nd" cx="576" cy="834" r="14"/><text class="yv" x="570" y="839">y</text><text class="yp" x="577" y="830">−</text><text class="yq" x="577" y="843">c</text></g>
<g id="d-join"><rect class="nd" x="483" y="884" width="107" height="12"/></g>
<g id="d-test1"><polygon class="nd" points="538,927 601,965 538,1004 475,965"/>
<text class="cd" x="542" y="961" textLength="80"><tspan class="i">y</tspan><tspan class="cs" dy="2">a</tspan><tspan dy="-2"> &lt; min(</tspan><tspan class="i">S</tspan><tspan class="cs" dy="2">b</tspan><tspan dy="-2">)</tspan></text>
<text class="cd" x="542" y="979" textLength="80"><tspan class="i">y</tspan><tspan class="cs" dy="2">a</tspan><tspan dy="-2"> &lt; min(</tspan><tspan class="i">S</tspan><tspan class="cs" dy="2">c</tspan><tspan dy="-2">)</tspan></text></g>
<g id="d-balanced"><rect class="nd" x="546" y="1027" width="60" height="25" rx="12.5"/><text class="bl" x="576" y="1044" textLength="52">Balanced</text></g>
<g id="d-test2"><polygon class="nd" points="475,1080 538,1118 475,1157 412,1118"/>
<text class="cd" x="479" y="1111" textLength="80"><tspan class="i">y</tspan><tspan class="cs" dy="2">a</tspan><tspan dy="-2"> &gt; min(</tspan><tspan class="i">S</tspan><tspan class="cs" dy="2">b</tspan><tspan dy="-2">)</tspan></text>
<text class="cd" x="479" y="1130" textLength="80"><tspan class="i">y</tspan><tspan class="cs" dy="2">a</tspan><tspan dy="-2"> &gt; min(</tspan><tspan class="i">S</tspan><tspan class="cs" dy="2">c</tspan><tspan dy="-2">)</tspan></text></g>
<g id="d-test3"><polygon class="nd" points="538,1219 601,1257 538,1296 475,1257"/>
<text class="cd" x="542" y="1261" textLength="80"><tspan class="i">y</tspan><tspan class="cs" dy="2">a</tspan><tspan dy="-2"> &lt; min(</tspan><tspan class="i">S</tspan><tspan class="cs" dy="2">b</tspan><tspan dy="-2">)</tspan></text></g>
<g id="out-D1"><circle class="nd" cx="424" cy="1178" r="15"/><text class="ol" x="424" y="1184">D1</text></g>
<g id="out-D2"><circle class="nd" cx="488" cy="1350" r="15"/><text class="ol" x="488" y="1356">D2</text></g>
<g id="out-D3"><circle class="nd" cx="590" cy="1318" r="15"/><text class="ol" x="590" y="1324">D3</text></g>

<!-- case e: ya-, yb+, yc- -->
<g id="e-in1"><circle class="nd" cx="635" cy="834" r="14"/><text class="yv" x="629" y="839">y</text><text class="yp" x="636" y="830">−</text><text class="yq" x="636" y="843">a</text></g>
<g id="e-in2"><circle class="nd" cx="673" cy="834" r="14"/><text class="yv" x="667" y="839">y</text><text class="yp" x="674" y="830">+</text><text class="yq" x="674" y="843">b</text></g>
<g id="e-in3"><circle class="nd" cx="711" cy="834" r="14"/><text class="yv" x="705" y="839">y</text><text class="yp" x="712" y="830">−</text><text class="yq" x="712" y="843">c</text></g>
<g id="e-join"><rect class="nd" x="618" y="884" width="107" height="12"/></g>
<g id="e-test1"><polygon class="nd" points="673,927 736,965 673,1004 610,965"/>
<text class="cd" x="677" y="961" textLength="80"><tspan class="i">y</tspan><tspan class="cs" dy="2">b</tspan><tspan dy="-2"> &lt; min(</tspan><tspan class="i">S</tspan><tspan class="cs" dy="2">a</tspan><tspan dy="-2">)</tspan></text>
<text class="cd" x="677" y="979" textLength="80"><tspan class="i">y</tspan><tspan class="cs" dy="2">b</tspan><tspan dy="-2"> &lt; min(</tspan><tspan class="i">S</tspan><tspan class="cs" dy="2">c</tspan><tspan dy="-2">)</tspan></text></g>
<g id="e-balanced"><rect class="nd" x="681" y="1027" width="60" height="25" rx="12.5"/><text class="bl" x="711" y="1044" textLength="52">Balanced</text></g>
<g id="e-test2"><polygon class="nd" points="610,1080 673,1118 610,1157 547,1118"/>
<text class="cd" x="614" y="1111" textLength="80"><tspan class="i">y</tspan><tspan class="cs" dy="2">b</tspan><tspan dy="-2"> &gt; min(</tspan><tspan class="i">S</tspan><tspan class="cs" dy="2">a</tspan><tspan dy="-2">)</tspan></text>
<text class="cd" x="614" y="1130" textLength="80"><tspan class="i">y</tspan><tspan class="cs" dy="2">b</tspan><tspan dy="-2"> &gt; min(</tspan><tspan class="i">S</tspan><tspan class="cs" dy="2">c</tspan><tspan dy="-2">)</tspan></text></g>
<g id="e-test3"><polygon class="nd" points="673,1219 736,1257 673,1296 610,1257"/>
<text class="cd" x="677" y="1261" textLength="80"><tspan class="i">y</tspan><tspan class="cs" dy="2">b</tspan><tspan dy="-2"> &lt; min(</tspan><tspan class="i">S</tspan><tspan class="cs" dy="2">a</tspan><tspan dy="-2">)</tspan></text></g>
<g id="out-E1"><circle class="nd" cx="559" cy="1178" r="15"/><text class="ol" x="559" y="1184">E1</text></g>
<g id="out-E2"><circle class="nd" cx="623" cy="1350" r="15"/><text class="ol" x="623" y="1356">E2</text></g>
<g id="out-E3"><circle class="nd" cx="725" cy="1318" r="15"/><text class="ol" x="725" y="1324">E3</text></g>

<!-- case f: ya-, yb-, yc+ -->
<g id="f-in1"><circle class="nd" cx="769" cy="834" r="14"/><text class="yv" x="763" y="839">y</text><text class="yp" x="770" y="830">−</text><text class="yq" x="770" y="843">a</text></g>
<g id="f-in2"><circle class="nd" cx="807" cy="834" r="14"/><text class="yv" x="801" y="839">y</text><text class="yp" x="808" y="830">−</text><text class="yq" x="808" y="843">b</text></g>
<g id="f-in3"><circle class="nd" cx="845" cy="834" r="14"/><text class="yv" x="839" y="839">y</text><text class="yp" x="846" y="830">+</text><text class="yq" x="846" y="843">c</text></g>
<g id="f-join"><rect class="nd" x="752" y="884" width="107" height="12"/></g>
<g id="f-test1"><polygon class="nd" points="807,927 870,965 807,1004 744,965"/>
<text class="cd" x="811" y="961" textLength="80"><tspan class="i">y</tspan><tspan class="cs" dy="2">c</tspan><tspan dy="-2"> &lt; min(</tspan><tspan class="i">S</tspan><tspan class="cs" dy="2">a</tspan><tspan dy="-2">)</tspan></text>
<text class="cd" x="811" y="979" textLength="80"><tspan class="i">y</tspan><tspan class="cs" dy="2">c</tspan><tspan dy="-2"> &lt; min(</tspan><tspan class="i">S</tspan><tspan class="cs" dy="2">b</tspan><tspan dy="-2">)</tspan></text></g>
<g id="f-balanced"><rect class="nd" x="815" y="1027" width="60" height="25" rx="12.5"/><text class="bl" x="845" y="1044" textLength="52">Balanced</text></g>
<g id="f-test2"><polygon class="nd" points="744,1080 807,1118 744,1157 681,1118"/>
<text class="cd" x="748" y="1111" textLength="80"><tspan class="i">y</tspan><tspan class="cs" dy="2">c</tspan><tspan dy="-2"> &gt; min(</tspan><tspan class="i">S</tspan><tspan class="cs" dy="2">a</tspan><tspan dy="-2">)</tspan></text>
<text class="cd" x="748" y="1130" textLength="80"><tspan class="i">y</tspan><tspan class="cs" dy="2">c</tspan><tspan dy="-2"> &gt; min(</tspan><tspan class="i">S</tspan><tspan class="cs" dy="2">b</tspan><tspan dy="-2">)</tspan></text></g>
<g id="f-test3"><polygon class="nd" points="807,1219 870,1257 807,1296 744,1257"/>
<text class="cd" x="811" y="1261" textLength="80"><tspan class="i">y</tspan><tspan class="cs" dy="2">c</tspan><tspan dy="-2"> &lt; min(</tspan><tspan class="i">S</tspan><tspan class="cs" dy="2">a</tspan><tspan dy="-2">)</tspan></text></g>
<g id="out-F1"><circle class="nd" cx="693" cy="1178" r="15"/><text class="ol" x="693" y="1184">F1</text></g>
<g id="out-F2"><circle class="nd" cx="757" cy="1350" r="15"/><text class="ol" x="757" y="1356">F2</text></g>
<g id="out-F3"><circle class="nd" cx="859" cy="1318" r="15"/><text class="ol" x="859" y="1324">F3</text></g>
</svg>
